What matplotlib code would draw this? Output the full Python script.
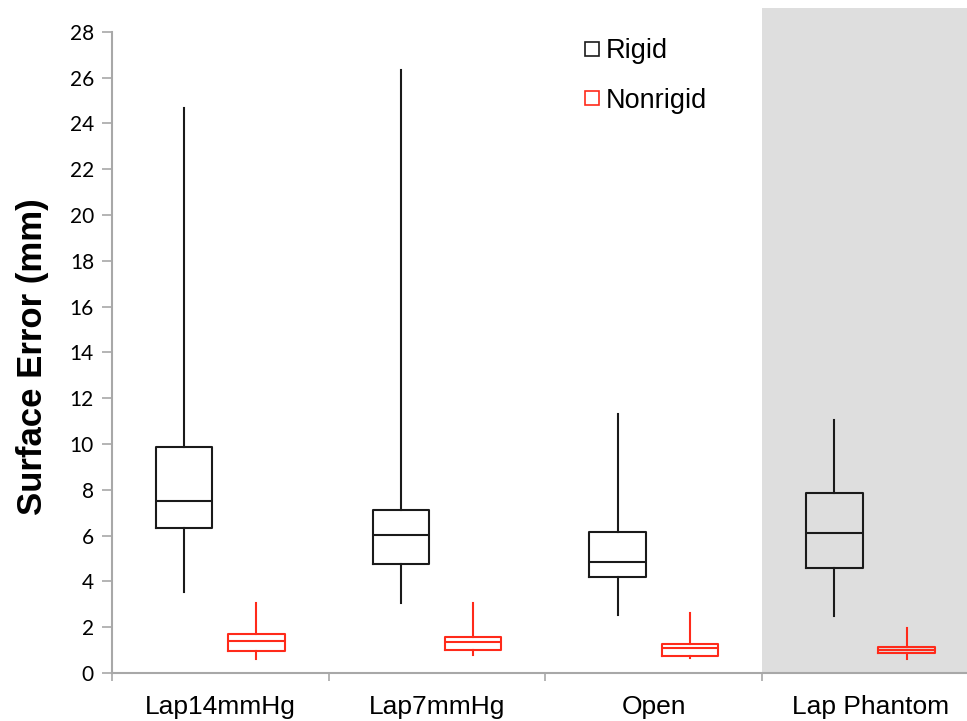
import matplotlib
matplotlib.use("Agg")
import matplotlib.pyplot as plt
from matplotlib.lines import Line2D

categories = ["Lap14mmHg", "Lap7mmHg", "Open", "Lap Phantom"]
series_names = ["Rigid", "Nonrigid"]

rigid_whislo = [3.54, 3.06, 2.53, 2.49]
rigid_q1 = [6.33, 4.76, 4.19, 4.59]
rigid_med = [7.51, 6.03, 4.85, 6.11]
rigid_q3 = [9.87, 7.10, 6.16, 7.86]
rigid_whishi = [24.67, 26.33, 11.33, 11.05]

nonrigid_whislo = [0.61, 0.79, 0.65, 0.61]
nonrigid_q1 = [0.96, 1.00, 0.74, 0.89]
nonrigid_med = [1.40, 1.35, 1.09, 1.01]
nonrigid_q3 = [1.70, 1.57, 1.27, 1.12]
nonrigid_whishi = [3.06, 3.06, 2.62, 1.97]

y_ticks = list(range(0, 29, 2))

BLACK = "#1a1a1a"
RED = "#ff2a1a"
SPINE = "#a8a8a8"

fig = plt.figure(figsize=(9.67, 7.21), dpi=100)
ax = fig.add_axes([112 / 967, 48 / 721, 1 - 112 / 967, (673 - 8) / 721])

ax.axvspan(3, 4, color="#dedede", zorder=0, lw=0)


def stats(lo, q1, med, q3, hi):
    return [dict(whislo=a, q1=b, med=c, q3=d, whishi=e, fliers=[])
            for a, b, c, d, e in zip(lo, q1, med, q3, hi)]


n = len(categories)
for s, (st, col, off) in enumerate([
        (stats(rigid_whislo, rigid_q1, rigid_med, rigid_q3, rigid_whishi), BLACK, 1 / 3),
        (stats(nonrigid_whislo, nonrigid_q1, nonrigid_med, nonrigid_q3, nonrigid_whishi), RED, 2 / 3)]):
    ax.bxp(st, positions=[i + off for i in range(n)], widths=0.26,
           showcaps=False, showfliers=False, manage_ticks=False,
           boxprops=dict(color=col, lw=1.5),
           whiskerprops=dict(color=col, lw=1.5),
           medianprops=dict(color=col, lw=1.5))

for side in ["top", "right"]:
    ax.spines[side].set_visible(False)
ax.spines["left"].set_bounds(0, 28)
for side in ["left", "bottom"]:
    ax.spines[side].set_color(SPINE)
    ax.spines[side].set_linewidth(1.5)

ax.set_yticks(y_ticks)
ax.set_yticklabels([str(t) for t in y_ticks], fontfamily="Lato", fontsize=15)
ax.tick_params(axis="y", length=7, width=1.2, color=SPINE, pad=6)

ax.set_xticks(range(0, n + 1))
ax.set_xticklabels([])
ax.tick_params(axis="x", which="major", length=6, width=1.2, color=SPINE)
ax.set_xticks([i + 0.5 for i in range(n)], minor=True)
ax.set_xticklabels(categories, minor=True, fontfamily="Liberation Sans", fontsize=19)
ax.tick_params(axis="x", which="minor", length=0, pad=16)

ax.set_xlim(0, 855 / 216.7)
ax.set_ylim(0, 29.04)

ax.set_ylabel("Surface Error (mm)", fontfamily="Liberation Sans", fontweight="bold",
              fontsize=25)
ax.yaxis.set_label_coords(-0.074, (673 - 357) / 665)

handles = [Line2D([], [], ls="none", marker="s", markersize=9.5, markerfacecolor="none",
                  markeredgecolor=c, markeredgewidth=1.2) for c in [BLACK, RED]]
leg = ax.legend(handles, series_names, loc="upper left", bbox_to_anchor=(0.538, 0.971),
                frameon=False, prop=dict(family="Liberation Sans", size=19.5),
                handlelength=0.7, handletextpad=0.15, labelspacing=0.88, borderaxespad=0)

fig.savefig("out.png", dpi=100)
